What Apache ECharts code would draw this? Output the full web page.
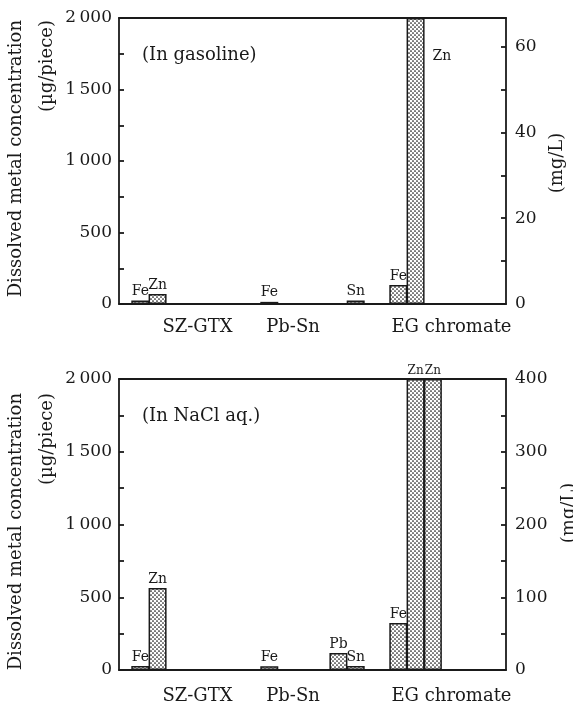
<!DOCTYPE html>
<html lang="en">
<head>
<meta charset="UTF-8">
<title>Dissolved metal concentration</title>
<script src="https://cdn.jsdelivr.net/npm/echarts@6/dist/echarts.min.js"></script>
<style>html,body{margin:0;padding:0;background:#fff}</style>
</head>
<body>
<div id="main" style="width:573px;height:710px;"></div>
<script>
// categories (coating) and the element written over each bar slot
var categories = ['SZ-GTX', 'Pb-Sn', 'EG chromate'];
var slotNames = ['Fe', 'Zn', 'Zn', '', 'Pb', 'Sn'];
var none = [null, null, null];

// in gasoline, µg/piece (2000 = bar runs off the top of the scale)
var gasFe = [25, 15, 133];
var gasZn = [70, null, 2000];
var gasSn = [null, 25, null];

// in NaCl aq., µg/piece
var naclFe = [27, 25, 323];
var naclZn = [563, null, 2000];
var naclZn2 = [null, null, 2000];
var naclPb = [null, 117, null];
var naclSn = [null, 27, null];

var leftMax = 2000;
var font = '"DejaVu Serif", "Liberation Serif", serif';
var ink = '#1a1a1a';

var panels = [
    {slots: [gasFe, gasZn, none, none, none, gasSn], top: 18, height: 286,
     rMax: 200 / 3, rStep: 10, rLabel: 20, note: '(In gasoline)',
     nameTop: 20, unitY: 163, unitX: 557, offRight: true, catMargin: 14},
    {slots: [naclFe, naclZn, naclZn2, none, naclPb, naclSn], top: 379, height: 291,
     rMax: 400, rStep: 50, rLabel: 100, note: '(In NaCl aq.)',
     nameTop: 393, unitY: 513, unitX: 569, offRight: false, catMargin: 17}
];

// dotted fill like the printed bars
function dots() {
    var c = document.createElement('canvas');
    c.width = 4; c.height = 4;
    var g = c.getContext('2d');
    g.fillStyle = '#fff';
    g.fillRect(0, 0, 4, 4);
    g.fillStyle = '#111';
    g.beginPath(); g.arc(1, 1, 0.85, 0, Math.PI * 2); g.fill();
    g.beginPath(); g.arc(3, 3, 0.85, 0, Math.PI * 2); g.fill();
    return c;
}
var pattern = {image: dots(), repeat: 'repeat'};

function thousands(v) {
    if (v % 500 !== 0) return '';
    if (v < 1000) return String(v);
    return Math.floor(v / 1000) + '\u2009' + String(v % 1000).padStart(3, '0');
}

var lineStyle = {color: ink, width: 1.8};
var grid = [], xAxis = [], yAxis = [], series = [], graphic = [];

panels.forEach(function (p, i) {
    grid.push({left: 119, right: 67, top: p.top, height: p.height, containLabel: false, outerBoundsMode: 'none'});

    xAxis.push({
        type: 'category', gridIndex: i, data: categories, position: 'bottom',
        axisLine: {onZero: false, lineStyle: lineStyle},
        axisTick: {inside: true, length: 5, lineStyle: lineStyle},
        axisLabel: {
            interval: 0, margin: p.catMargin, color: ink, fontFamily: font, fontSize: 18,
            formatter: function (v, idx) { return '{c' + idx + '|' + v + '}'; },
            rich: {
                c0: {fontFamily: font, fontSize: 18, color: ink, padding: [0, 0, 0, 28]},
                c1: {fontFamily: font, fontSize: 18, color: ink, padding: [0, 39, 0, 0]},
                c2: {fontFamily: font, fontSize: 18, color: ink, padding: [0, 0, 0, 20]}
            }
        }
    });
    xAxis.push({
        type: 'category', gridIndex: i, data: categories, position: 'top',
        axisLine: {onZero: false, lineStyle: lineStyle},
        axisTick: {inside: true, length: 5, lineStyle: lineStyle},
        axisLabel: {show: false}
    });

    yAxis.push({
        type: 'value', gridIndex: i, position: 'left', min: 0, max: leftMax, interval: 250,
        axisLine: {show: true, onZero: false, lineStyle: lineStyle},
        axisTick: {show: true, inside: true, length: 5, lineStyle: lineStyle},
        splitLine: {show: false},
        axisLabel: {margin: 7, color: ink, fontFamily: font, fontSize: 17, formatter: thousands}
    });
    yAxis.push({
        type: 'value', gridIndex: i, position: 'right', min: 0, max: p.rMax, interval: p.rStep,
        axisLine: {show: true, onZero: false, lineStyle: lineStyle},
        axisTick: {show: true, inside: true, length: 5, lineStyle: lineStyle},
        splitLine: {show: false},
        axisLabel: {
            margin: 9, color: ink, fontFamily: font, fontSize: 17,
            formatter: function (v) {
                var r = v / p.rLabel;
                return Math.abs(r - Math.round(r)) < 1e-6 ? String(Math.round(v)) : '';
            }
        }
    });

    p.slots.forEach(function (vals, k) {
        series.push({
            type: 'bar', name: slotNames[k], xAxisIndex: 2 * i, yAxisIndex: 2 * i,
            barWidth: 18, barGap: '-4%',
            itemStyle: {color: pattern, borderColor: ink, borderWidth: 1.5},
            label: {show: true, position: 'top', distance: 2, formatter: '{a}',
                    color: ink, fontFamily: font, fontSize: 14},
            data: vals.map(function (v) {
                if (v === null) return null;
                if (v >= leftMax && p.offRight) {
                    return {value: v, label: {position: [26, 38], align: 'left', verticalAlign: 'middle'}};
                }
                if (v >= leftMax) return {value: v, label: {fontSize: 12}};
                return v;
            })
        });
    });

    graphic.push({
        type: 'text', x: 142, y: p.top + 37,
        style: {text: p.note, font: '18px ' + font, fill: ink, verticalAlign: 'middle'}
    });
    graphic.push({
        type: 'text', x: 16, y: p.nameTop, rotation: Math.PI / 2,
        style: {text: 'Dissolved metal concentration', font: '18px ' + font, fill: ink,
                align: 'right', verticalAlign: 'middle'}
    });
    graphic.push({
        type: 'text', x: 47, y: p.nameTop, rotation: Math.PI / 2,
        style: {text: '(\u00b5g/piece)', font: '18px ' + font, fill: ink,
                align: 'right', verticalAlign: 'middle'}
    });
    graphic.push({
        type: 'text', x: p.unitX, y: p.unitY, rotation: Math.PI / 2,
        style: {text: '(mg/L)', font: '18px ' + font, fill: ink,
                align: 'center', verticalAlign: 'middle'}
    });
});

var myChart = echarts.init(document.getElementById('main'));
myChart.setOption({
    animation: false,
    backgroundColor: '#fff',
    grid: grid,
    xAxis: xAxis,
    yAxis: yAxis,
    series: series,
    graphic: graphic
});
</script>
</body>
</html>
